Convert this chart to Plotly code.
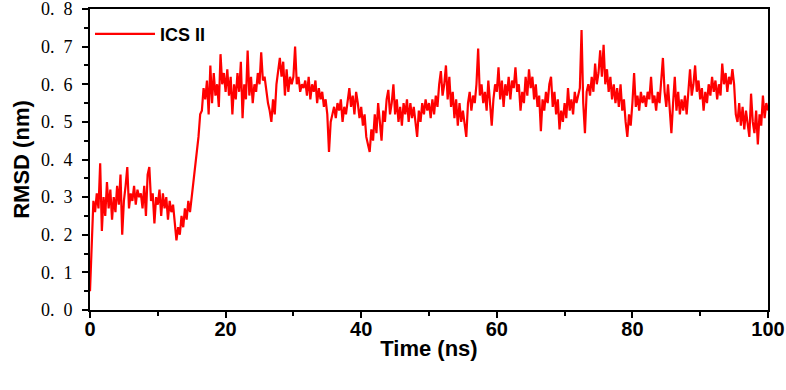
import numpy as np
import plotly.graph_objects as go

rmsd_rows = [
    [0.05, 0.20, 0.29, 0.26, 0.31, 0.27, 0.39, 0.21, 0.30, 0.25, 0.34, 0.27, 0.32, 0.24, 0.30, 0.26, 0.33, 0.28, 0.36, 0.20],
    [0.29, 0.33, 0.38, 0.27, 0.31, 0.29, 0.33, 0.28, 0.32, 0.30, 0.31, 0.27, 0.33, 0.25, 0.36, 0.38, 0.29, 0.31, 0.23, 0.30],
    [0.28, 0.32, 0.25, 0.31, 0.27, 0.30, 0.24, 0.29, 0.26, 0.28, 0.23, 0.185, 0.22, 0.20, 0.25, 0.22, 0.27, 0.24, 0.29, 0.26],
    [0.30, 0.34, 0.37, 0.41, 0.46, 0.52, 0.53, 0.59, 0.56, 0.61, 0.52, 0.65, 0.55, 0.63, 0.57, 0.60, 0.54, 0.68, 0.60, 0.63],
    [0.58, 0.64, 0.57, 0.62, 0.52, 0.60, 0.56, 0.63, 0.58, 0.66, 0.51, 0.60, 0.56, 0.69, 0.57, 0.62, 0.55, 0.60, 0.58, 0.63],
    [0.60, 0.685, 0.61, 0.62, 0.58, 0.55, 0.53, 0.50, 0.56, 0.52, 0.60, 0.63, 0.67, 0.62, 0.66, 0.57, 0.64, 0.58, 0.62, 0.60],
    [0.62, 0.70, 0.60, 0.62, 0.58, 0.60, 0.59, 0.61, 0.57, 0.62, 0.56, 0.60, 0.58, 0.61, 0.55, 0.59, 0.56, 0.58, 0.54, 0.56],
    [0.52, 0.42, 0.50, 0.52, 0.54, 0.51, 0.55, 0.53, 0.56, 0.50, 0.54, 0.52, 0.55, 0.59, 0.54, 0.57, 0.52, 0.58, 0.55, 0.51],
    [0.54, 0.49, 0.52, 0.46, 0.44, 0.42, 0.48, 0.45, 0.52, 0.47, 0.55, 0.50, 0.45, 0.53, 0.50, 0.56, 0.585, 0.52, 0.55, 0.60],
    [0.52, 0.56, 0.50, 0.54, 0.49, 0.55, 0.52, 0.56, 0.50, 0.55, 0.51, 0.54, 0.49, 0.46, 0.53, 0.50, 0.55, 0.52, 0.56, 0.53],
    [0.55, 0.51, 0.56, 0.52, 0.57, 0.54, 0.60, 0.635, 0.57, 0.60, 0.65, 0.56, 0.62, 0.54, 0.58, 0.51, 0.56, 0.49, 0.55, 0.50],
    [0.53, 0.49, 0.46, 0.55, 0.58, 0.53, 0.57, 0.55, 0.60, 0.695, 0.57, 0.60, 0.55, 0.58, 0.53, 0.61, 0.55, 0.49, 0.56, 0.60],
    [0.58, 0.645, 0.56, 0.61, 0.54, 0.60, 0.57, 0.62, 0.56, 0.61, 0.59, 0.645, 0.58, 0.60, 0.53, 0.58, 0.55, 0.62, 0.57, 0.64],
    [0.59, 0.62, 0.56, 0.60, 0.54, 0.57, 0.475, 0.56, 0.53, 0.58, 0.55, 0.60, 0.62, 0.54, 0.58, 0.52, 0.56, 0.48, 0.53, 0.50],
    [0.55, 0.51, 0.59, 0.53, 0.56, 0.52, 0.58, 0.55, 0.57, 0.59, 0.744, 0.55, 0.47, 0.58, 0.60, 0.57, 0.62, 0.58, 0.655, 0.60],
    [0.63, 0.69, 0.62, 0.705, 0.60, 0.64, 0.58, 0.62, 0.56, 0.60, 0.55, 0.59, 0.54, 0.60, 0.53, 0.56, 0.50, 0.46, 0.52, 0.49],
    [0.55, 0.63, 0.54, 0.57, 0.53, 0.58, 0.55, 0.57, 0.54, 0.58, 0.56, 0.62, 0.55, 0.57, 0.53, 0.58, 0.55, 0.60, 0.67, 0.58],
    [0.54, 0.60, 0.52, 0.47, 0.55, 0.62, 0.53, 0.58, 0.52, 0.56, 0.53, 0.57, 0.52, 0.58, 0.64, 0.57, 0.60, 0.65, 0.58, 0.61],
    [0.56, 0.59, 0.53, 0.58, 0.55, 0.60, 0.57, 0.62, 0.58, 0.61, 0.56, 0.60, 0.57, 0.655, 0.60, 0.63, 0.58, 0.62, 0.60, 0.64],
    [0.60, 0.52, 0.50, 0.55, 0.49, 0.54, 0.48, 0.53, 0.50, 0.46, 0.575, 0.50, 0.47, 0.53, 0.44, 0.52, 0.49, 0.57, 0.51, 0.55, 0.53],
]
rmsd = [v for row in rmsd_rows for v in row]
time_ns = np.linspace(0, 100, len(rmsd))

x_ticks = [0, 20, 40, 60, 80, 100]
y_ticks = [0.0, 0.1, 0.2, 0.3, 0.4, 0.5, 0.6, 0.7, 0.8]
y_ticktext = ["0.\u00a0\u00a00", "0.\u00a0\u00a01", "0.\u00a0\u00a02", "0.\u00a0\u00a03", "0.\u00a0\u00a04",
              "0.\u00a0\u00a05", "0.\u00a0\u00a06", "0.\u00a0\u00a07", "0.\u00a0\u00a08"]

fig = go.Figure()
fig.add_trace(go.Scatter(
    x=time_ns, y=rmsd, mode="lines", name="ICS II",
    line=dict(color="#ff0000", width=2.2),
))

fig.update_layout(
    width=786, height=390,
    margin=dict(l=90, r=18, t=9, b=80),
    plot_bgcolor="white", paper_bgcolor="white",
    showlegend=True,
    legend=dict(
        x=0.0, y=0.978, xanchor="left", yanchor="top",
        bgcolor="rgba(0,0,0,0)", borderwidth=0,
        font=dict(family="Liberation Sans, Arial, sans-serif", size=18, color="black", weight="bold"),
        itemwidth=60,
    ),
    xaxis=dict(
        range=[0, 100], tickvals=x_ticks, automargin=False,
        ticks="outside", ticklen=6, tickwidth=2, tickcolor="black",
        ticklabelstandoff=-6, ticklabeloverflow="allow",
        showline=True, linewidth=2, linecolor="black", mirror=True,
        showgrid=False, zeroline=False,
        minor=dict(dtick=10, ticks="outside", ticklen=4, tickwidth=2, tickcolor="black", showgrid=False),
        tickfont=dict(family="Liberation Sans Narrow, Liberation Sans, Arial, sans-serif", size=20, color="black", weight="bold"),
        title=dict(text="Time (ns)", standoff=2,
                   font=dict(family="Liberation Sans, Arial, sans-serif", size=22, color="black", weight="bold")),
    ),
    yaxis=dict(
        range=[0, 0.8001], tickvals=y_ticks, ticktext=y_ticktext, automargin=False,
        ticks="outside", ticklen=6, tickwidth=2, tickcolor="black",
        ticklabelstandoff=6, ticklabeloverflow="allow",
        showline=True, linewidth=2, linecolor="black", mirror=True,
        showgrid=False, zeroline=False,
        minor=dict(dtick=0.05, ticks="outside", ticklen=4, tickwidth=2, tickcolor="black", showgrid=False),
        tickfont=dict(family="Liberation Serif, serif", size=18, color="black"),
        title=dict(text="RMSD (nm)", standoff=5,
                   font=dict(family="Liberation Sans, Arial, sans-serif", size=22, color="black", weight="bold")),
    ),
)

fig.write_html("out.html", config={"displayModeBar": False},
               post_script="document.body.style.margin='0';")
